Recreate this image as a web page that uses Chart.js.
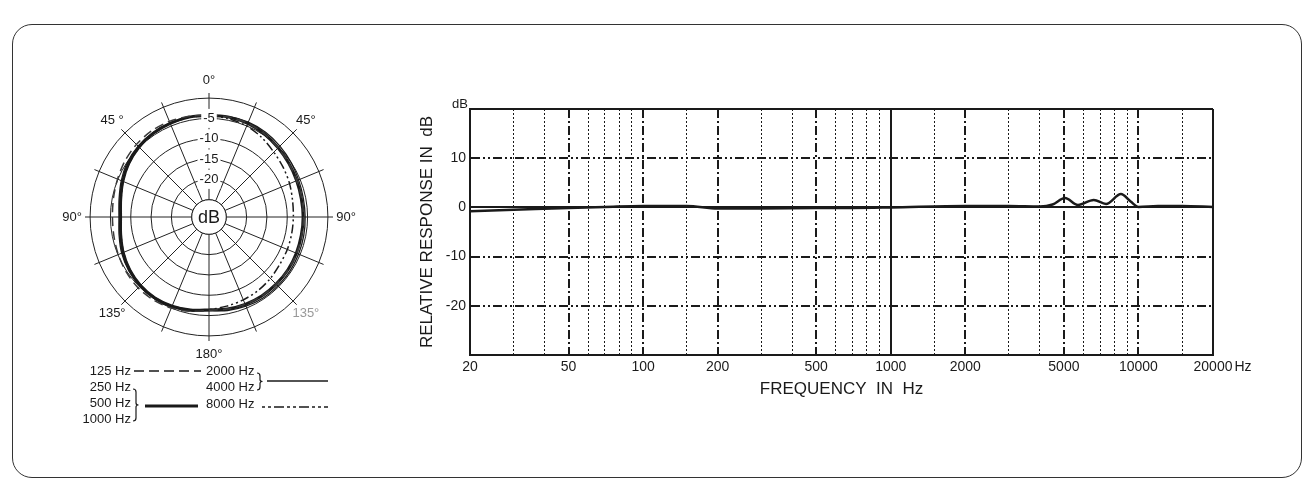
<!DOCTYPE html>
<html>
<head>
<meta charset="utf-8">
<script src="https://cdn.jsdelivr.net/npm/chart.js@4.4.1/dist/chart.umd.min.js"></script>
<style>
  html, body { margin: 0; padding: 0; background: #fff; }
  body { width: 1315px; height: 491px; position: relative; overflow: hidden; }
  #frame { position: absolute; left: 12px; top: 24px; width: 1290px; height: 454px; box-sizing: border-box;
           border: 1.5px solid #333; border-radius: 20px; }
  #polar { position: absolute; left: 40px; top: 60px; }
  #response { position: absolute; left: 400px; top: 80px; }
</style>
</head>
<body>
<div id="frame"></div>
<canvas id="polar" width="320" height="380"></canvas>
<canvas id="response" width="880" height="330"></canvas>
<script>
// polar diagram, one value every 11.25 degrees, clockwise from the front
const polarAngles = [0, 11.25, 22.5, 33.75, 45, 56.25, 67.5, 78.75, 90, 101.25, 112.5, 123.75,
  135, 146.25, 157.5, 168.75, 180, 191.25, 202.5, 213.75, 225, 236.25, 247.5, 258.75,
  270, 281.25, 292.5, 303.75, 315, 326.25, 337.5, 348.75];
const lowDb = [-4.2, -4.2, -4.3, -4.7, -5.2, -5.6, -5.9, -6.0, -6.0, -6.0, -5.9, -5.9,
  -5.9, -5.9, -6.0, -6.2, -6.3, -5.6, -5.0, -4.7, -4.6, -4.8, -5.1, -5.4,
  -5.5, -5.3, -4.9, -4.4, -4.0, -3.8, -3.8, -4.0];           // 125 Hz
const midDb = [-4.3, -4.2, -4.3, -4.7, -5.2, -5.6, -5.9, -6.1, -6.1, -6.1, -6.0, -5.9,
  -5.9, -5.9, -6.0, -6.2, -6.4, -5.9, -5.5, -5.3, -5.4, -5.8, -6.4, -7.1,
  -7.5, -7.1, -6.3, -5.5, -4.9, -4.5, -4.3, -4.2];           // 250 / 500 / 1000 Hz
const highDb = [-4.3, -4.1, -4.0, -4.2, -4.6, -5.0, -5.4, -5.6, -5.6, -5.5, -5.4, -5.3,
  -5.3, -5.3, -5.5, -5.8, -6.2, -5.7, -5.3, -5.1, -5.2, -5.5, -6.0, -6.7,
  -7.1, -6.7, -5.9, -5.1, -4.6, -4.3, -4.2, -4.2];           // 2000 / 4000 Hz
const topDb = [-4.3, -4.6, -5.0, -5.8, -6.7, -7.3, -7.8, -8.3, -8.5, -8.5, -8.4, -8.3,
  -7.9, -7.5, -7.2, -6.9, -6.5, -6.0, -5.6, -5.4, -5.5, -5.9, -6.5, -7.2,
  -7.6, -7.2, -6.4, -5.6, -5.0, -4.6, -4.4, -4.3];           // 8000 Hz
const ringTicks = [-25, -20, -15, -10, -5, 0];
const degreeLabels = ["0°", "45°", "90°", "135°", "180°", "135°", "90°", "45 °"];

// frequency response
const freqHz = [20, 30, 50, 70, 100, 150, 200, 300, 500, 700, 1000, 2000, 3000, 4000, 4500,
  5050, 5700, 6600, 7400, 8500, 9300, 10000, 12000, 15000, 20000];
const responseDb = [-0.8, -0.5, -0.1, 0.1, 0.3, 0.3, -0.2, -0.2, -0.1, -0.1, 0, 0.3, 0.3, 0.2, 0.6,
  1.9, 0.5, 1.5, 0.7, 2.7, 1.2, 0.1, 0.3, 0.3, 0.1];
const freqMajor = [20, 50, 100, 200, 500, 1000, 2000, 5000, 10000, 20000];
const freqMinor = [30, 40, 60, 70, 80, 90, 150, 300, 400, 600, 700, 800, 900, 1500,
  3000, 4000, 6000, 7000, 8000, 9000, 15000];
const dbTicks = [-30, -20, -10, 0, 10, 20];
const dbLabels = [-20, -10, 0, 10];

Chart.defaults.font.family = '"Liberation Sans", Arial, sans-serif';
Chart.defaults.color = "#1a1a1a";

const INK = "#1a1a1a";

function brace(ctx, x, y1, y2) {
  const ym = (y1 + y2) / 2, w = 3;
  ctx.beginPath();
  ctx.moveTo(x, y1);
  ctx.quadraticCurveTo(x + w, y1, x + w, y1 + 3);
  ctx.lineTo(x + w, ym - 2);
  ctx.quadraticCurveTo(x + w, ym, x + w + 2.5, ym);
  ctx.quadraticCurveTo(x + w, ym, x + w, ym + 2);
  ctx.lineTo(x + w, y2 - 3);
  ctx.quadraticCurveTo(x + w, y2, x, y2);
  ctx.stroke();
}

function hline(ctx, x1, x2, y, width, dash) {
  ctx.save();
  ctx.lineWidth = width;
  ctx.setLineDash(dash);
  ctx.beginPath();
  ctx.moveTo(x1, y);
  ctx.lineTo(x2, y);
  ctx.stroke();
  ctx.restore();
}

const polarExtras = {
  id: "polarExtras",
  beforeDatasetsDraw(chart) {
    const r = chart.scales.r;
    const ctx = chart.ctx;
    const rad = r.getDistanceFromCenterForValue(-25);
    ctx.save();
    ctx.fillStyle = "#fff";
    ctx.strokeStyle = "#222";
    ctx.lineWidth = 1;
    ctx.beginPath();
    ctx.arc(r.xCenter, r.yCenter, rad, 0, Math.PI * 2);
    ctx.fill();
    ctx.stroke();
    ctx.fillStyle = INK;
    ctx.font = '18px "Liberation Sans", Arial, sans-serif';
    ctx.textAlign = "center";
    ctx.textBaseline = "middle";
    ctx.fillText("dB", r.xCenter, r.yCenter + 1);
    ctx.restore();
  },
  afterDraw(chart) {
    const r = chart.scales.r;
    const ctx = chart.ctx;
    ctx.save();
    ctx.font = '13px "Liberation Sans", Arial, sans-serif';
    ctx.textAlign = "center";
    ctx.textBaseline = "middle";
    degreeLabels.forEach((txt, k) => {
      const p = r.getPointPosition(k * 4, r.drawingArea + 13);
      ctx.fillStyle = k === 3 ? "#999" : INK;
      ctx.fillText(txt, p.x, p.y);
    });

    // legend (canvas sits at page 40,60)
    const ox = -40, oy = -60;
    ctx.fillStyle = INK;
    ctx.strokeStyle = INK;
    ctx.textAlign = "right";
    ctx.fillText("125 Hz", 131 + ox, 371 + oy);
    ctx.fillText("250 Hz", 131 + ox, 387 + oy);
    ctx.fillText("500 Hz", 131 + ox, 403 + oy);
    ctx.fillText("1000 Hz", 131 + ox, 419 + oy);
    ctx.textAlign = "left";
    ctx.fillText("2000 Hz", 206 + ox, 371 + oy);
    ctx.fillText("4000 Hz", 206 + ox, 387 + oy);
    ctx.fillText("8000 Hz", 206 + ox, 404 + oy);

    hline(ctx, 134 + ox, 201 + ox, 371 + oy, 1.5, [10, 5]);
    hline(ctx, 145 + ox, 198 + ox, 406 + oy, 3, []);
    hline(ctx, 267 + ox, 328 + ox, 381 + oy, 1.5, []);
    hline(ctx, 262 + ox, 328 + ox, 407 + oy, 1.5, [3, 3, 3, 3, 10, 3]);

    ctx.lineWidth = 1.2;
    brace(ctx, 257 + ox, 373 + oy, 390 + oy);
    brace(ctx, 133 + ox, 389 + oy, 421 + oy);
    ctx.restore();
  }
};

new Chart(document.getElementById("polar"), {
  type: "radar",
  data: {
    labels: polarAngles,
    datasets: [
      { label: "125 Hz", data: lowDb, borderColor: "#3a3a3a", borderWidth: 1.5, borderDash: [9, 5] },
      { label: "2000 Hz, 4000 Hz", data: highDb, borderColor: INK, borderWidth: 1.3 },
      { label: "8000 Hz", data: topDb, borderColor: INK, borderWidth: 1.5, borderDash: [9, 3, 2, 3, 2, 3] },
      { label: "250 Hz, 500 Hz, 1000 Hz", data: midDb, borderColor: INK, borderWidth: 3 }
    ]
  },
  options: {
    responsive: false,
    animation: false,
    layout: { padding: { left: 36, top: 24, right: 17, bottom: 89 } },
    elements: {
      point: { radius: 0 },
      line: { tension: 0.3, fill: false }
    },
    plugins: { legend: { display: false }, tooltip: { enabled: false } },
    scales: {
      r: {
        min: -29.25,
        max: 1.25,
        afterBuildTicks: s => { s.ticks = ringTicks.map(v => ({ value: v })); },
        ticks: {
          z: 1,
          color: INK,
          font: { size: 13 },
          backdropColor: "#fff",
          backdropPadding: { x: 2, y: 3 },
          showLabelBackdrop: c => !!(c.tick && c.tick.label !== ""),
          callback: v => (v === 0 || v === -25) ? "" : String(v)
        },
        grid: { circular: true, color: "#222", lineWidth: 1 },
        angleLines: { color: "#222", lineWidth: c => (c.index % 2 === 0 ? 1 : 0) },
        pointLabels: { display: false }
      }
    }
  },
  plugins: [polarExtras]
});

const responseExtras = {
  id: "responseExtras",
  afterDraw(chart) {
    const ctx = chart.ctx;
    const a = chart.chartArea;
    const x = chart.scales.x;
    ctx.save();
    ctx.fillStyle = INK;
    ctx.font = '13px "Liberation Sans", Arial, sans-serif';
    ctx.textAlign = "right";
    ctx.textBaseline = "middle";
    ctx.fillText("dB", a.left - 2, a.top - 5);
    ctx.font = '14px "Liberation Sans", Arial, sans-serif';
    ctx.textAlign = "left";
    const xr = x.getPixelForValue(20000) + ctx.measureText("20000").width / 2 + 2;
    ctx.fillText("Hz", xr, a.bottom + 12);
    ctx.restore();
  }
};

function xStyle(c) {
  const v = c.tick ? c.tick.value : null;
  if (v === 20 || v === 20000 || v === 1000) return "solid";
  if (freqMajor.includes(v)) return "major";
  return "minor";
}
function yStyle(c) {
  const v = c.tick ? c.tick.value : null;
  if (v === 20 || v === -30 || v === 0) return "solid";
  return "major";
}

new Chart(document.getElementById("response"), {
  type: "line",
  data: {
    datasets: [{
      data: freqHz.map((f, i) => ({ x: f, y: responseDb[i] })),
      borderColor: INK,
      borderWidth: 2.5,
      pointRadius: 0,
      cubicInterpolationMode: "monotone",
      fill: false
    }]
  },
  options: {
    responsive: false,
    animation: false,
    layout: { padding: { left: 0, top: 29, right: 67, bottom: 0 } },
    plugins: { legend: { display: false }, tooltip: { enabled: false } },
    scales: {
      x: {
        type: "logarithmic",
        min: 20,
        max: 20000,
        afterBuildTicks: s => {
          s.ticks = freqMajor.concat(freqMinor).sort((p, q) => p - q).map(v => ({ value: v }));
        },
        afterFit: s => { s.height = 55; },
        ticks: {
          autoSkip: false,
          maxRotation: 0,
          padding: 4,
          color: INK,
          font: { size: 14 },
          callback: v => freqMajor.includes(v) ? String(v) : ""
        },
        grid: {
          drawTicks: false,
          color: INK,
          lineWidth: c => (xStyle(c) === "minor" ? 1 : 2)
        },
        border: {
          display: true,
          color: INK,
          width: 2,
          dash: c => {
            const s = xStyle(c);
            if (s === "major") return [9, 3, 2, 3];
            if (s === "minor") return [2, 2];
            return [];
          }
        },
        title: {
          display: true,
          text: "FREQUENCY  IN  Hz",
          color: INK,
          font: { size: 17 },
          padding: { top: 0, bottom: 10 }
        }
      },
      y: {
        min: -30,
        max: 20,
        afterBuildTicks: s => { s.ticks = dbTicks.map(v => ({ value: v })); },
        afterFit: s => { s.width = 70; },
        ticks: {
          padding: 4,
          color: INK,
          font: { size: 14 },
          callback: v => dbLabels.includes(v) ? String(v) : ""
        },
        grid: {
          drawTicks: false,
          color: INK,
          lineWidth: 2
        },
        border: {
          display: true,
          color: INK,
          width: 2,
          dash: c => (yStyle(c) === "major" ? [9, 3, 2, 3, 2, 3] : [])
        },
        title: {
          display: true,
          text: "RELATIVE RESPONSE IN  dB",
          color: INK,
          font: { size: 17 },
          padding: { top: 17, bottom: 0 }
        }
      }
    }
  },
  plugins: [responseExtras]
});
</script>
</body>
</html>
